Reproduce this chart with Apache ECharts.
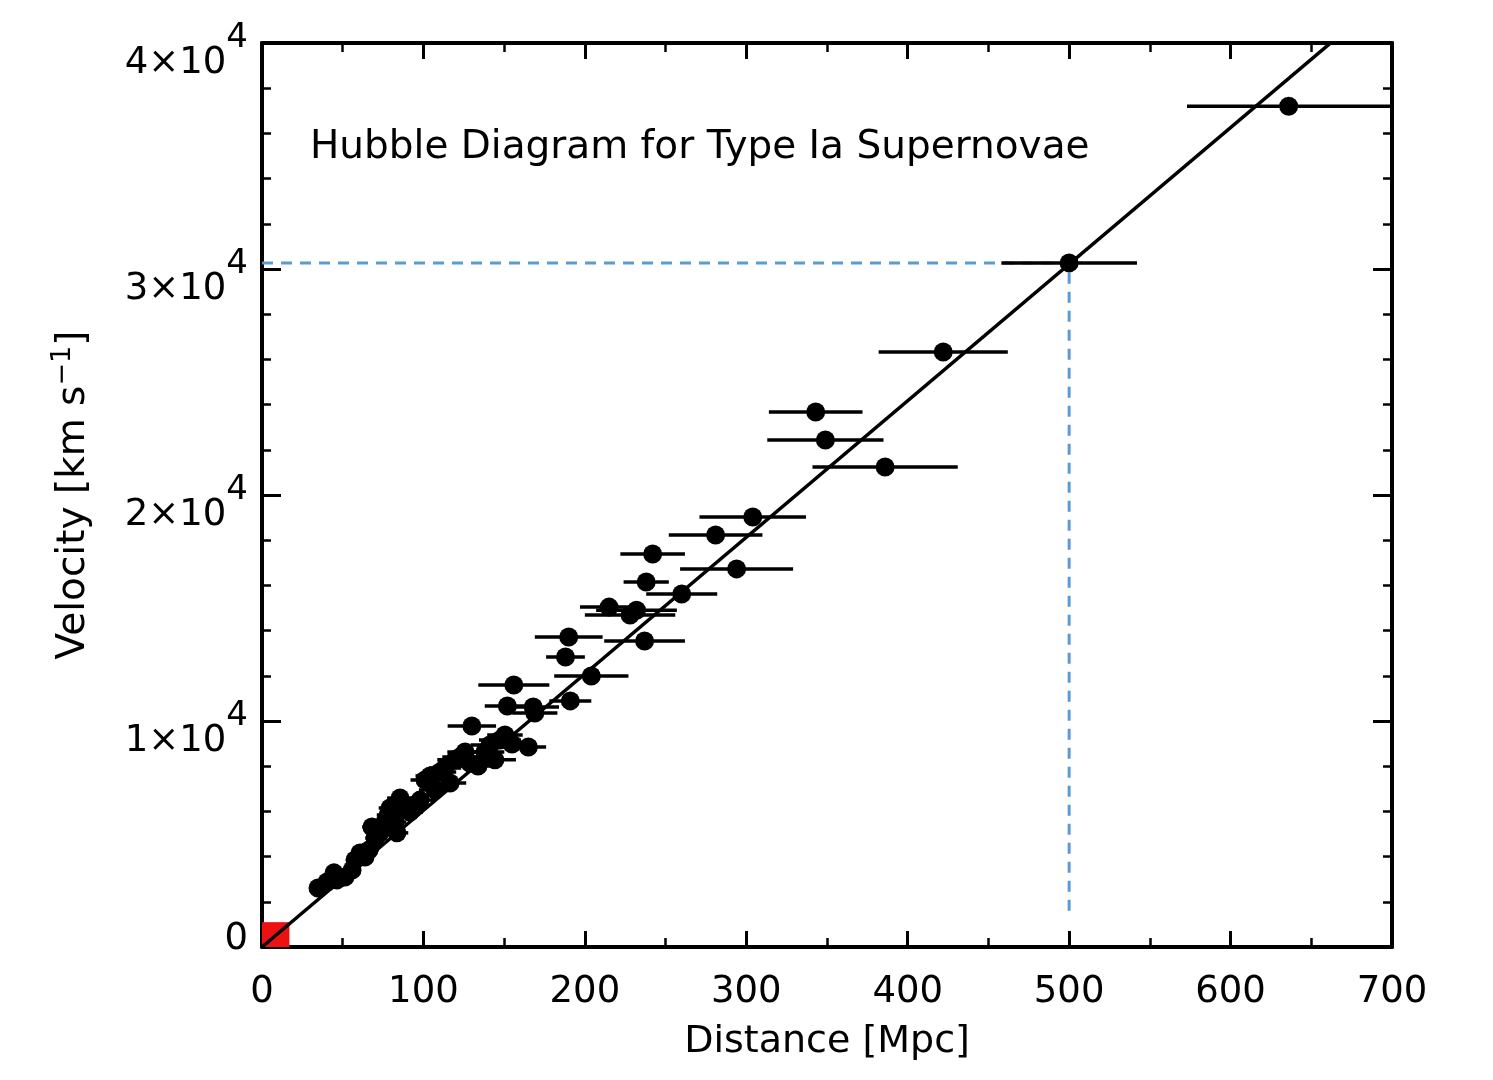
<!DOCTYPE html>
<html>
<head>
<meta charset="utf-8">
<script src="https://cdn.jsdelivr.net/npm/echarts@6/dist/echarts.min.js"></script>
<style>
  html, body { margin: 0; padding: 0; background: #fff; }
  #chart { width: 1493px; height: 1080px; }
</style>
</head>
<body>
<div id="chart"></div>
<script>
// supernova distances [Mpc], velocities [km/s] and distance errors [Mpc]
var distance = [
  34.7, 40.3, 44.6, 46.5, 51.4, 55.8, 57.6, 60.7, 63.8, 66.3,
  68.1, 70.0, 73.1, 76.2, 78.1, 79.3, 82.4, 83.6, 85.5, 88.6,
  91.7, 94.8, 97.9, 101.0, 104.1, 107.2, 110.3, 113.4, 116.5, 119.6,
  122.7, 125.8, 128.8, 133.8, 138.1, 141.2, 144.3, 147.4, 150.5, 154.9,
  130, 152, 168, 169, 191, 165, 156, 204, 188, 190,
  237, 215, 232, 228, 260, 238, 294, 242, 281, 304,
  386, 349, 343, 422, 500, 636
];
var velocity = [
  2610, 2880, 3280, 2970, 3100, 3410, 3850, 4160, 3980, 4290,
  5310, 4820, 5050, 5530, 5840, 6150, 5530, 5050, 6590, 6150,
  5970, 6280, 6500, 7390, 7570, 6950, 7740, 7920, 7260, 8280,
  8410, 8630, 8140, 8010, 8630, 8940, 8280, 9160, 9380, 8980,
  9780, 10660, 10620, 10350, 10890, 8850, 11590, 11990, 12830, 13720,
  13540, 15040, 14900, 14690, 15620, 16150, 16730, 17390, 18230, 19030,
  21240, 22430, 23670, 26330, 30270, 37200
];
var distErr = [
  4, 4, 4, 4, 5, 5, 5, 5, 5, 6,
  6, 6, 6, 7, 7, 7, 7, 7, 8, 8,
  8, 8, 9, 9, 9, 10, 10, 10, 10, 11,
  11, 11, 11, 12, 12, 12, 13, 13, 11, 14,
  15, 14, 16, 14, 13, 11, 22, 23, 12, 21,
  25, 18, 25, 28, 22, 14, 35, 20, 29, 33,
  45, 36, 29, 40, 42, 63
];

// Hubble law fit line and the read-off guide at 500 Mpc
var fitLine = [[0, 0], [700, 42300]];
var guideLine = [[0, 30270], [500, 30270], [500, 1330]];
// local volume box at the origin
var localBox = [[0, 0], [17, 1100]];

var points = distance.map(function (d, i) { return [d, velocity[i], distErr[i]]; });

var FONT = 'DejaVu Sans';
var chart = echarts.init(document.getElementById('chart'));

var tickStyle = { color: '#000', width: 3 };
var minorStyle = { color: '#000', width: 2.5 };
var axisLine = { show: true, onZero: false, lineStyle: { color: '#000', width: 4 } };

var option = {
  backgroundColor: '#fff',
  animation: false,
  grid: { left: 262, right: 101, top: 43, bottom: 133 },
  graphic: [{
    type: 'text',
    left: 310,
    top: 128,
    style: { text: 'Hubble Diagram for Type Ia Supernovae', font: '39px "' + FONT + '"', fill: '#000' },
    z: 10
  }],
  xAxis: [{
    type: 'value', min: 0, max: 700, interval: 100,
    name: 'Distance [Mpc]', nameLocation: 'middle', nameGap: 76,
    nameTextStyle: { fontFamily: FONT, fontSize: 38, color: '#000' },
    axisLine: axisLine,
    axisTick: { show: true, inside: true, length: 16, lineStyle: tickStyle },
    minorTick: { show: true, splitNumber: 2, length: 9, lineStyle: minorStyle },
    axisLabel: { fontFamily: FONT, fontSize: 37, color: '#000', margin: 27 },
    splitLine: { show: false }
  }, {
    type: 'value', min: 0, max: 700, interval: 100, position: 'top',
    axisLine: axisLine,
    axisTick: { show: true, inside: true, length: 16, lineStyle: tickStyle },
    minorTick: { show: true, splitNumber: 2, length: 9, lineStyle: minorStyle },
    axisLabel: { show: false },
    splitLine: { show: false }
  }],
  yAxis: [{
    type: 'value', min: 0, max: 40000, interval: 10000,
    name: 'Velocity [km s{s|−1}]', nameLocation: 'middle', nameGap: 164,
    nameTextStyle: {
      fontFamily: FONT, fontSize: 39, color: '#000',
      rich: { s: { fontFamily: FONT, fontSize: 27, color: '#000', padding: [0, 0, 22, 0] } }
    },
    axisLine: axisLine,
    axisTick: { show: true, inside: true, length: 19, lineStyle: tickStyle },
    minorTick: { show: true, splitNumber: 5, length: 9, lineStyle: minorStyle },
    axisLabel: {
      margin: 14,
      fontFamily: FONT, fontSize: 37, color: '#000',
      formatter: function (v) {
        if (v === 0) return '{z|0}';
        return '{m|' + (v / 10000) + '×10}{s|4}';
      },
      rich: {
        z: { fontFamily: FONT, fontSize: 37, color: '#000', padding: [0, 0, 16, 0] },
        m: { fontFamily: FONT, fontSize: 37, color: '#000', padding: [40, 0, 0, 0] },
        s: { fontFamily: FONT, fontSize: 34, color: '#000', padding: [0, 0, 10, 0] }
      }
    },
    splitLine: { show: false }
  }, {
    type: 'value', min: 0, max: 40000, interval: 10000, position: 'right',
    axisLine: axisLine,
    axisTick: { show: true, inside: true, length: 19, lineStyle: tickStyle },
    minorTick: { show: true, splitNumber: 5, length: 9, lineStyle: minorStyle },
    axisLabel: { show: false },
    splitLine: { show: false }
  }],
  series: [{
    type: 'line',
    data: [],
    silent: true,
    markArea: {
      silent: true,
      itemStyle: { color: '#ee1111', opacity: 1 },
      data: [[{ coord: localBox[0] }, { coord: localBox[1] }]]
    },
    z: 1
  }, {
    type: 'line',
    data: guideLine,
    symbol: 'none',
    clip: true,
    lineStyle: { color: '#5b9bd5', width: 3, type: [11, 8] },
    z: 2
  }, {
    type: 'line',
    data: fitLine,
    symbol: 'none',
    clip: true,
    lineStyle: { color: '#000', width: 3.5 },
    z: 3
  }, {
    type: 'custom',
    clip: true,
    data: points,
    encode: { x: 0, y: 1 },
    renderItem: function (params, api) {
      var y = api.value(1);
      var a = api.coord([api.value(0) - api.value(2), y]);
      var b = api.coord([api.value(0) + api.value(2), y]);
      return {
        type: 'line',
        shape: { x1: a[0], y1: a[1], x2: b[0], y2: b[1] },
        style: { stroke: '#000', lineWidth: 3.5 }
      };
    },
    z: 4
  }, {
    type: 'scatter',
    data: points,
    symbolSize: 19,
    itemStyle: { color: '#000', opacity: 1 },
    z: 5
  }]
};

chart.setOption(option);
window.onresize = chart.resize;
</script>
</body>
</html>
